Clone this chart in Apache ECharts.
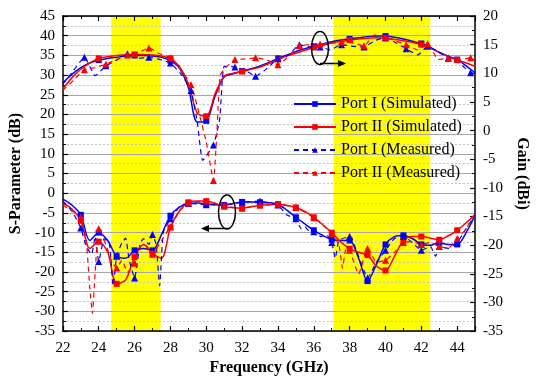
<!DOCTYPE html>
<html>
<head>
<meta charset="utf-8">
<script src="https://cdn.jsdelivr.net/npm/echarts@6.0.0/dist/echarts.min.js"></script>
<style>
    html, body { margin: 0; padding: 0; background: #fff; }
    #chart { width: 538px; height: 381px; }
</style>
</head>
<body>
<div id="chart"></div>
<script>
    // simulated curves, sampled every 0.5 GHz
    const simFreq = [22, 22.5, 23, 23.5, 24, 24.5, 25, 25.5, 26, 26.5, 27, 27.5, 28, 28.5, 29, 29.5, 30, 30.5,
        31, 31.5, 32, 32.5, 33, 33.5, 34, 34.5, 35, 35.5, 36, 36.5, 37, 37.5, 38, 38.5, 39, 39.5, 40, 40.5,
        41, 41.5, 42, 42.5, 43, 43.5, 44, 44.5, 45];
    // gain (dBi, right axis)
    const gainSimI = [8.3, 9.8, 11.0, 11.8, 12.3, 12.6, 12.8, 13.0, 13.1, 13.1, 13.0, 12.8, 12.2, 10.9, 7.5, 1.5, 1.7, 6.1,
        9.4, 9.9, 10.4, 10.8, 11.3, 11.9, 12.6, 13.2, 13.8, 14.3, 14.7, 15.1, 15.5, 15.8, 16.0, 16.2, 16.4, 16.5, 16.5, 16.3,
        16.0, 15.6, 15.2, 14.5, 13.7, 13.0, 12.4, 11.3, 10.1];
    const gainSimII = [7.3, 9.2, 10.7, 11.8, 12.6, 12.9, 13.1, 13.2, 13.3, 13.3, 13.2, 13.0, 12.6, 11.2, 8.2, 3.0, 2.5, 6.5,
        9.5, 10.0, 10.3, 10.7, 11.1, 11.7, 12.4, 13.0, 13.5, 14.0, 14.5, 14.9, 15.3, 15.6, 15.8, 16.0, 16.1, 16.2, 16.1, 15.9,
        15.7, 15.4, 15.0, 14.4, 13.6, 12.9, 12.3, 11.8, 11.2];
    // S-parameter (dB, left axis)
    const sSimI = [-1.5, -3.0, -5.5, -12.0, -10.0, -12.0, -16.0, -16.5, -14.5, -14.0, -14.5, -10.5, -5.7, -3.5, -2.6, -2.5, -2.7, -2.9,
        -3.0, -2.6, -2.2, -2.2, -2.3, -2.4, -2.8, -4.3, -6.1, -7.8, -9.4, -10.7, -11.8, -12.0, -12.0, -16.5, -22.3, -18.0, -13.0, -11.0,
        -10.7, -11.5, -13.0, -13.2, -12.6, -13.0, -13.0, -10.0, -5.6];
    const sSimII = [-2.5, -4.0, -7.0, -14.0, -12.3, -15.0, -23.0, -22.0, -16.2, -13.0, -15.3, -16.5, -8.7, -4.5, -2.3, -2.0, -2.0, -2.6,
        -3.4, -3.7, -3.8, -3.4, -3.1, -2.9, -2.8, -3.1, -3.6, -4.6, -6.1, -8.0, -10.0, -12.3, -14.1, -15.0, -15.7, -18.5, -19.6, -16.0,
        -12.0, -11.0, -11.0, -11.4, -11.8, -10.8, -9.4, -7.5, -5.5];

    // measured gain (dBi)
    const gainMeasFreqI = [22, 22.6, 23.2, 23.8, 24.4, 25, 25.6, 26.2, 26.8, 27.4, 28, 28.6, 29.15, 29.5, 29.8, 30.4, 30.75, 31.0,
        31.6, 32.2, 32.75, 33.3, 34.0, 34.6, 35.2, 35.8, 36.35, 36.9, 37.55, 38.2, 38.8, 39.4, 40, 40.6, 41.15, 41.8, 42.35, 42.9,
        43.5, 44.1, 44.75, 45];
    const gainMeasI = [8.1, 10.5, 12.8, 9.6, 11.3, 12.3, 13.4, 12.6, 12.8, 12.4, 11.8, 9.8, 7.0, 1.5, -5.2, -2.5, 2.0, 11.2,
        11.1, 10.5, 9.5, 10.6, 12.6, 13.2, 15.0, 14.6, 14.6, 14.1, 15.0, 14.7, 14.6, 15.7, 16.2, 15.3, 14.3, 13.2, 14.7, 13.8,
        12.7, 11.8, 10.1, 10.0];
    const gainMeasFreqII = [22, 22.6, 23.2, 23.8, 24.4, 25, 25.6, 26.2, 26.8, 27.4, 28, 28.6, 29.15, 29.6, 30.0, 30.4, 30.6, 30.8,
        31.6, 32.2, 32.75, 33.4, 34.0, 34.6, 35.2, 35.8, 36.35, 36.9, 37.55, 38.2, 38.8, 39.4, 40, 40.6, 41.15, 41.8, 42.35, 42.95,
        43.5, 44.1, 44.75, 45];
    const gainMeasII = [7.0, 8.8, 10.6, 11.0, 11.6, 12.4, 13.2, 13.6, 14.4, 13.4, 12.7, 10.5, 8.0, 3.0, -2.0, -8.7, 0.0, 9.8,
        12.4, 12.5, 12.7, 12.3, 11.5, 13.0, 14.8, 15.0, 15.1, 15.2, 15.5, 15.3, 14.8, 16.7, 16.3, 15.6, 15.0, 14.1, 15.2, 12.4,
        12.6, 12.3, 12.7, 12.2];
    // frequencies where the measured gain curves carry a marker
    const gainMarkFreq = [23.2, 24.4, 25.6, 26.8, 28, 29.15, 30.4, 31.6, 32.75, 34.0, 35.2, 36.35, 37.55, 38.8, 40,
        41.15, 42.35, 43.5, 44.75];

    // measured S-parameter (dB)
    const sMeasFreqI = [22, 22.5, 23, 23.3, 23.6, 23.8, 24, 24.3, 24.6, 24.8, 25, 25.3, 25.5, 25.7, 26, 26.3, 26.5, 26.8, 27, 27.2,
        27.4, 27.6, 28, 28.5, 29, 30, 31, 32, 33, 34, 34.5, 35, 35.3, 35.5, 35.8, 36, 36.4, 36.7, 37, 37.2,
        37.4, 38, 38.5, 39, 39.5, 40, 40.5, 41, 41.5, 42, 42.5, 42.8, 43, 43.5, 44, 44.5, 45];
    const sMeasI = [-2.0, -4.5, -8.8, -13.5, -15.5, -11.0, -17.3, -11.5, -13.0, -23.5, -16.0, -12.5, -11.4, -17.0, -21.5, -13.0, -11.5, -13.0, -10.5, -13.0,
        -23.5, -10.0, -6.5, -3.5, -2.6, -2.9, -3.0, -2.3, -2.0, -3.0, -5.5, -6.5, -9.0, -8.5, -10.0, -9.8, -11.0, -10.5, -12.5, -16.5,
        -12.0, -11.0, -16.0, -21.5, -17.5, -14.5, -11.5, -11.0, -12.5, -14.5, -13.5, -16.0, -13.5, -14.0, -12.5, -9.0, -5.5];
    const sMeasFreqII = [22, 22.5, 23, 23.3, 23.5, 23.65, 23.8, 24, 24.4, 24.7, 25, 25.3, 25.6, 26, 26.3, 26.6, 27, 27.5, 28, 28.5,
        29, 30, 31, 32, 33, 34, 35, 36, 37, 37.4, 37.6, 37.8, 38, 38.5, 39, 39.5, 40, 40.5, 41, 41.5,
        42, 42.5, 43, 43.5, 44, 44.5, 45];
    const sMeasII = [-3.0, -4.5, -6.0, -12.0, -24.0, -30.5, -20.0, -9.0, -13.0, -17.0, -19.0, -17.0, -20.0, -17.8, -13.5, -13.0, -15.5, -12.0, -8.5, -4.5,
        -2.5, -2.0, -3.2, -3.8, -3.0, -2.8, -3.6, -6.2, -10.2, -13.0, -19.0, -14.0, -14.5, -20.5, -14.0, -17.5, -17.0, -15.0, -12.5, -12.3,
        -13.0, -12.5, -13.5, -14.0, -11.5, -9.0, -5.0];

    // highlighted bands (GHz)
    const bands = [[24.7, 27.45], [37.1, 42.5]];

    const names = ['Port I (Simulated)', 'Port II (Simulated)', 'Port I (Measured)', 'Port II (Measured)'];
    const BLUE = '#0000ff';
    const RED = '#ff0000';
    const FONT = '"Liberation Serif", "Times New Roman", serif';

    // marker only where markAt(freq) is true, plain line elsewhere
    function points(xs, ys, markAt) {
        return xs.map((x, i) => markAt(x) ? [x, ys[i]] : {value: [x, ys[i]], symbol: 'none'});
    }

    function curve(name, color, xs, ys, yAxisIndex, dashed, markAt) {
        return {
            name: name,
            type: 'line',
            yAxisIndex: yAxisIndex,
            data: points(xs, ys, markAt),
            smooth: dashed ? 0.15 : 0.3,
            symbol: dashed ? 'triangle' : 'rect',
            symbolSize: dashed ? 7 : 6,
            showAllSymbol: true,
            itemStyle: {color: color},
            lineStyle: {color: color, width: dashed ? 1.2 : 1.5, type: dashed ? [5, 4] : 'solid'},
            z: 3
        };
    }

    const isInt = (f) => Number.isInteger(f) && f > 22 && f < 45;
    const isEven = (f) => Number.isInteger(f) && f % 2 === 0 && f > 22 && f < 45;
    const isGainMark = (f) => gainMarkFreq.indexOf(f) >= 0;

    const axisLine = {show: true, onZero: false, lineStyle: {color: '#000', width: 1.5}};
    const axisTick = {show: true, inside: true, length: 5, lineStyle: {color: '#000', width: 1.2}};
    const minorTick = {show: true, splitNumber: 2, length: 3, lineStyle: {color: '#000', width: 1}};
    const tickLabel = {color: '#000', fontFamily: FONT, fontSize: 15};
    const nameStyle = {color: '#000', fontFamily: FONT, fontSize: 16, fontWeight: 'bold'};

    let myChart = echarts.init(document.getElementById('chart'));

    let option = {
        animation: false,
        backgroundColor: '#fff',
        grid: {left: 58, right: 55, top: 16, bottom: 47},
        legend: {
            orient: 'vertical',
            left: 288,
            top: 91,
            itemWidth: 42,
            itemHeight: 7,
            itemGap: 7,
            textStyle: {color: '#000', fontFamily: FONT, fontSize: 16, lineHeight: 16},
            data: names
        },
        xAxis: [
            {
                type: 'value', min: 22, max: 45, interval: 2, position: 'bottom',
                axisLine: axisLine, axisTick: axisTick, minorTick: minorTick,
                axisLabel: Object.assign({showMaxLabel: false, margin: 9}, tickLabel),
                splitLine: {show: false},
                name: 'Frequency (GHz)', nameLocation: 'middle', nameGap: 28, nameTextStyle: nameStyle
            },
            {
                type: 'value', min: 22, max: 45, interval: 2, position: 'top',
                axisLine: axisLine, axisTick: axisTick, minorTick: minorTick,
                axisLabel: {show: false}, splitLine: {show: false}
            }
        ],
        yAxis: [
            {
                type: 'value', min: -35, max: 45, interval: 5, position: 'left',
                axisLine: axisLine, axisTick: axisTick, minorTick: minorTick,
                axisLabel: tickLabel,
                splitLine: {show: true, lineStyle: {color: '#a6a6a6', width: 1}},
                minorSplitLine: {show: true, lineStyle: {color: '#c4c4c4', width: 1, type: [2, 2]}},
                name: 'S-Parameter (dB)', nameLocation: 'middle', nameGap: 30, nameRotate: 90, nameTextStyle: nameStyle
            },
            {
                type: 'value', min: -35, max: 20, interval: 5, position: 'right',
                axisLine: axisLine, axisTick: axisTick, minorTick: minorTick,
                axisLabel: tickLabel,
                splitLine: {show: false},
                name: 'Gain (dBi)', nameLocation: 'middle', nameGap: 32, nameRotate: -90, nameTextStyle: nameStyle
            }
        ],
        series: [
            {
                name: 'bands',
                type: 'line',
                data: [],
                z: -1,
                silent: true,
                markArea: {
                    z: -1,
                    silent: true,
                    label: {show: false},
                    itemStyle: {color: '#ffff00', opacity: 1},
                    data: bands.map((b) => [{xAxis: b[0]}, {xAxis: b[1]}])
                }
            },
            curve(names[0], BLUE, simFreq, gainSimI, 1, false, isEven),
            curve(names[1], RED, simFreq, gainSimII, 1, false, isEven),
            curve(names[2], BLUE, gainMeasFreqI, gainMeasI, 1, true, isGainMark),
            curve(names[3], RED, gainMeasFreqII, gainMeasII, 1, true, isGainMark),
            curve(names[0], BLUE, simFreq, sSimI, 0, false, isInt),
            curve(names[1], RED, simFreq, sSimII, 0, false, isInt),
            curve(names[2], BLUE, sMeasFreqI, sMeasI, 0, true, isInt),
            curve(names[3], RED, sMeasFreqII, sMeasII, 0, true, isInt)
        ],
        graphic: [
            // gain curves -> right axis
            {type: 'ellipse', shape: {cx: 320, cy: 48, rx: 8.5, ry: 16.5}, style: {fill: 'none', stroke: '#000', lineWidth: 1.5}, z: 10},
            {type: 'line', shape: {x1: 320, y1: 63.5, x2: 340, y2: 63.5}, style: {stroke: '#000', lineWidth: 1.5}, z: 10},
            {type: 'polygon', shape: {points: [[346, 63.5], [338, 60], [338, 67]]}, style: {fill: '#000'}, z: 10},
            // S-parameter curves -> left axis
            {type: 'ellipse', shape: {cx: 227, cy: 212, rx: 8.5, ry: 17}, style: {fill: 'none', stroke: '#000', lineWidth: 1.5}, z: 10},
            {type: 'line', shape: {x1: 230, y1: 228.5, x2: 208, y2: 228.5}, style: {stroke: '#000', lineWidth: 1.5}, z: 10},
            {type: 'polygon', shape: {points: [[201, 228.5], [209, 225], [209, 232]]}, style: {fill: '#000'}, z: 10}
        ]
    };
    myChart.setOption(option);
</script>
</body>
</html>
